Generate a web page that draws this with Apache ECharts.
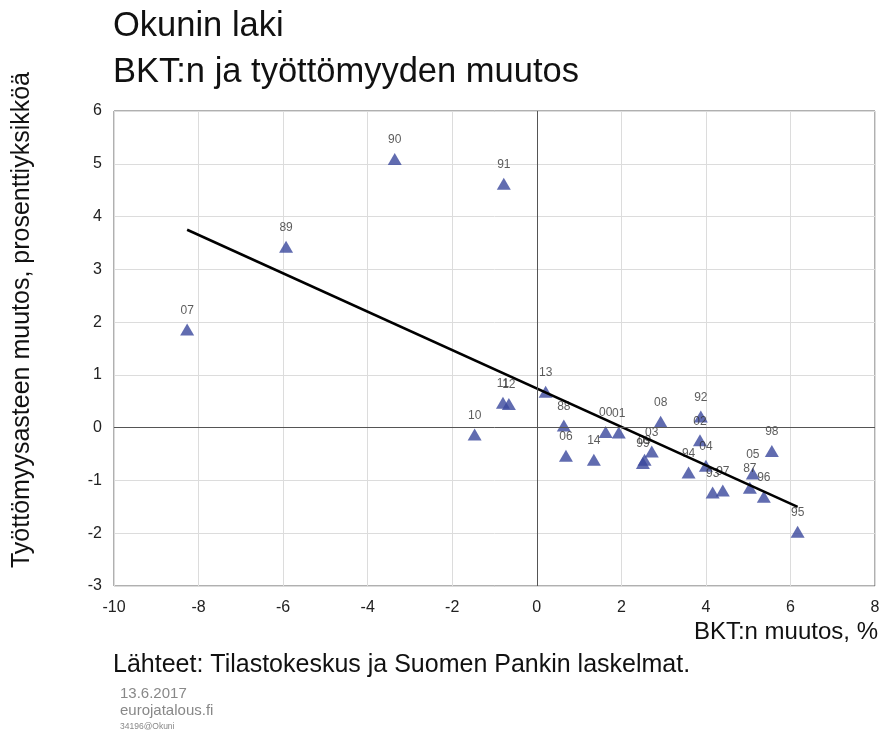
<!DOCTYPE html>
<html>
<head>
<meta charset="utf-8">
<script src="https://cdn.jsdelivr.net/npm/echarts@6/dist/echarts.min.js"></script>
<style>
  html, body { margin: 0; padding: 0; background: #fff; }
  #chart { width: 883px; height: 733px; }
</style>
</head>
<body>
<div id="chart"></div>
<script>
// vuosi, BKT:n muutos (%), työttömyysasteen muutos (%-yks.)
var years = ['07', '89', '90', '91', '10', '11', '12', '13', '88', '06', '14', '00', '01',
             '08', '92', '02', '04', '94', '03', '99', '09', '93', '97', '87', '05', '96', '98', '95'];
var gdpChange = [-8.27, -5.93, -3.36, -0.78, -1.47, -0.80, -0.66, 0.21, 0.64, 0.69, 1.35, 1.63, 1.94,
                 2.93, 3.88, 3.86, 4.00, 3.59, 2.72, 2.51, 2.55, 4.16, 4.40, 5.04, 5.11, 5.37, 5.56, 6.17];
var unempChange = [1.86, 3.43, 5.09, 4.62, -0.13, 0.47, 0.45, 0.68, 0.04, -0.53, -0.61, -0.08, -0.09,
                   0.11, 0.21, -0.24, -0.72, -0.85, -0.45, -0.67, -0.61, -1.23, -1.19, -1.14, -0.87, -1.31, -0.44, -1.97];
var trendX = [-8.27, 6.17];
var trendY = [3.75, -1.50];
var xTicks = [-10, -8, -6, -4, -2, 0, 2, 4, 6, 8];
var yTicks = [-3, -2, -1, 0, 1, 2, 3, 4, 5, 6];

var font = '"Liberation Sans", Arial, sans-serif';

var points = years.map(function (y, i) {
  return [gdpChange[i], unempChange[i], y];
});
var trend = trendX.map(function (x, i) {
  return [x, trendY[i]];
});

var chart = echarts.init(document.getElementById('chart'));

function txt(x, y, text, size, fill) {
  return {
    type: 'text', x: x, y: y,
    style: { text: text, font: size + 'px ' + font, fill: fill, verticalAlign: 'middle', align: 'left' }
  };
}

var option = {
  animation: false,
  textStyle: { fontFamily: font },
  grid: {
    left: 114, right: 8, top: 111, bottom: 147,
    show: true, borderColor: '#606060', borderWidth: 1
  },
  xAxis: {
    type: 'value',
    min: xTicks[0], max: xTicks[xTicks.length - 1], interval: 2,
    axisLine: { show: false },
    axisTick: { show: false },
    axisLabel: { fontSize: 16, color: '#222', margin: 14, fontFamily: font },
    splitLine: { lineStyle: { color: '#dcdcdc' } }
  },
  yAxis: {
    type: 'value',
    min: yTicks[0], max: yTicks[yTicks.length - 1], interval: 1,
    axisLine: { show: false },
    axisTick: { show: false },
    axisLabel: { fontSize: 16, color: '#222', margin: 12, fontFamily: font },
    splitLine: { lineStyle: { color: '#dcdcdc' } }
  },
  series: [
    {
      type: 'scatter',
      data: points,
      symbol: 'triangle',
      symbolSize: [14, 12],
      itemStyle: { color: '#3a479c' },
      label: {
        show: true,
        position: 'top',
        distance: 7,
        fontSize: 12,
        color: '#333',
        fontFamily: font,
        formatter: function (p) { return p.data[2]; }
      },
      markLine: {
        silent: true,
        symbol: 'none',
        label: { show: false },
        lineStyle: { color: '#555', width: 1, type: 'solid' },
        data: [{ xAxis: 0 }, { yAxis: 0 }]
      },
      z: 3
    },
    {
      type: 'line',
      data: trend,
      symbol: 'none',
      lineStyle: { color: '#000', width: 2.5 },
      z: 4
    }
  ],
  graphic: [
    txt(113, 26, 'Okunin laki', 34.5, '#111'),
    txt(113, 72, 'BKT:n ja työttömyyden muutos', 34.5, '#111'),
    {
      type: 'text', x: 22, y: 320, rotation: Math.PI / 2,
      style: { text: 'Työttömyysasteen muutos, prosenttiyksikköä', font: '25px ' + font, fill: '#111',
               align: 'center', verticalAlign: 'middle' }
    },
    {
      type: 'text', x: 878, y: 632,
      style: { text: 'BKT:n muutos, %', font: '24px ' + font, fill: '#111', align: 'right', verticalAlign: 'middle' }
    },
    txt(113, 665, 'Lähteet: Tilastokeskus ja Suomen Pankin laskelmat.', 25, '#111'),
    txt(120, 694, '13.6.2017', 15, '#888'),
    txt(120, 711, 'eurojatalous.fi', 15, '#888'),
    txt(120, 727, '34196@Okuni', 8.5, '#888')
  ]
};

chart.setOption(option);
</script>
</body>
</html>
